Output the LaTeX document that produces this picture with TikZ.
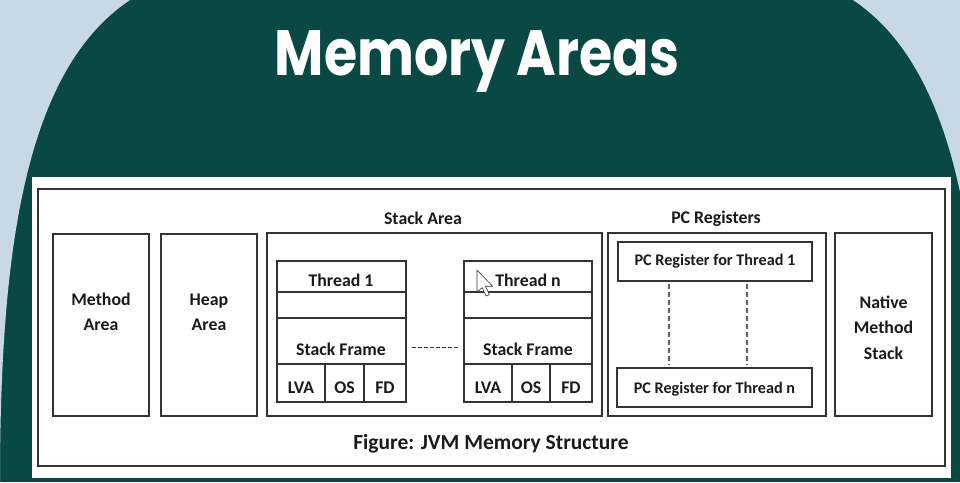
\documentclass[tikz,border=0pt]{standalone}
\usepackage{fontspec}
\setmainfont{Carlito}
\newfontfamily\titlefont{Poppins}[FakeStretch=0.84]
\usetikzlibrary{calc}

\definecolor{skyback}{HTML}{C8D8E4}
\definecolor{deepteal}{HTML}{0A4844}
\definecolor{inkline}{HTML}{333333}
\definecolor{ink}{HTML}{1A1A1A}

\tikzset{
  box/.style={draw=inkline, line width=1.3pt, fill=white, inner sep=0pt, outer sep=0pt},
  lab/.style={anchor=base, inner sep=0pt, outer sep=0pt, text=ink,
              font=\fontsize{17.8}{20}\selectfont\bfseries},
  pclab/.style={lab, font=\fontsize{16.2}{20}\selectfont\bfseries},
  caption/.style={lab, font=\fontsize{21.5}{24}\selectfont\bfseries},
  hdots/.style={draw=inkline, line width=1pt, dash pattern=on 4pt off 2pt},
  vdots/.style={draw=gray!75!black, line width=1.8pt, dash pattern=on 5pt off 3pt},
}

% rectangle node from its corners: name, x1, y1, x2, y2
\newcommand\cellbox[5]{%
  \node[box, minimum width={#4-#2}, minimum height={#5-#3}] (#1)
    at ({(#2+#4)/2},{(#3+#5)/2}) {};}

\begin{document}
\begin{tikzpicture}[x=1pt, y=-1pt]
  \useasboundingbox (0,0) rectangle (960,482);

  % backdrop: dark disc on a pale ground
  \fill[deepteal] (0,0) rectangle (960,482);
  \fill[skyback] (0,0) -- (130,0) .. controls (25,70) and (0,250) .. (0,482) -- cycle;
  \fill[skyback] (990,0) -- (853,0) .. controls (958,70) and (983,250) .. (983,482) -- (990,482) -- cycle;

  \node[anchor=base, inner sep=0pt, text=white,
        font=\titlefont\bfseries\fontsize{64}{70}\selectfont] (title) at (477,75) {Memory Areas};

  % white card and its frame
  \fill[white] (32,177) rectangle (951,478);
  \cellbox{frame}{38}{189}{945}{466}

  % method and heap areas
  \cellbox{method}{53}{234}{149}{416}
  \node[lab] (methodA) at (101,305) {Method};
  \node[lab] (methodB) at (101,330) {Area};

  \cellbox{heap}{161}{234}{257}{416}
  \node[lab] (heapA) at (209,305) {Heap};
  \node[lab] (heapB) at (209,330) {Area};

  % stack area with two thread stacks
  \cellbox{stack}{267}{233}{602}{416}
  \node[lab] (stacklbl) at (423,224) {Stack Area};

  \cellbox{tAname}{277}{261}{406}{292}
  \cellbox{tAgap}{277}{292}{406}{318}
  \cellbox{tAsf}{277}{318}{406}{364}
  \cellbox{tAlva}{277}{364}{325}{402}
  \cellbox{tAos}{325}{364}{364}{402}
  \cellbox{tAfd}{364}{364}{406}{402}
  \node[lab] (tAnamet) at (341,286) {Thread 1};
  \node[lab] (tAsft) at (341,355) {Stack Frame};
  \node[lab] (tAlvat) at (301,393) {LVA};
  \node[lab] (tAost) at (344.5,393) {OS};
  \node[lab] (tAfdt) at (385,393) {FD};

  \cellbox{tNname}{464}{261}{592}{292}
  \cellbox{tNgap}{464}{292}{592}{318}
  \cellbox{tNsf}{464}{318}{592}{364}
  \cellbox{tNlva}{464}{364}{512}{402}
  \cellbox{tNos}{512}{364}{550}{402}
  \cellbox{tNfd}{550}{364}{592}{402}
  \node[lab] (tNnamet) at (528,286) {Thread n};
  \node[lab] (tNsft) at (528,355) {Stack Frame};
  \node[lab] (tNlvat) at (488,393) {LVA};
  \node[lab] (tNost) at (531,393) {OS};
  \node[lab] (tNfdt) at (571,393) {FD};

  \draw[hdots] ([xshift=6pt,yshift=-6pt]tAsf.east) -- ([xshift=-6pt,yshift=-6pt]tNsf.west);

  % pc registers
  \cellbox{pcarea}{608}{233}{826}{416}
  \node[lab] (pclbl) at (716,223) {PC Registers};
  \cellbox{pcA}{618}{242}{812}{281}
  \node[pclab] (pcAt) at (715,265) {PC Register for Thread 1};
  \cellbox{pcN}{617}{368}{812}{407}
  \node[pclab] (pcNt) at (714.5,393) {PC Register for Thread n};
  \draw[vdots] ([xshift=-46pt,yshift=-3pt]pcA.south) -- ([xshift=-45.5pt,yshift=3pt]pcN.north);
  \draw[vdots] ([xshift=32pt,yshift=-3pt]pcA.south) -- ([xshift=32.5pt,yshift=3pt]pcN.north);

  % native method stack
  \cellbox{native}{835}{233}{932}{416}
  \node[lab] (nativeA) at (883.5,308) {Native};
  \node[lab] (nativeB) at (883.5,333) {Method};
  \node[lab] (nativeC) at (883.5,359) {Stack};

  \node[caption] (figcap) at (491,449) {Figure: JVM Memory Structure};

  % mouse pointer
  \begin{scope}[shift={(477,270)}, scale=1.3]
    \filldraw[fill=white, draw=black!80, line width=0.6pt, line join=round]
      (0,0) -- (0,17) -- (4,13.5) -- (7,20) -- (9.5,19) -- (6.5,12.5) -- (12,12.5) -- cycle;
  \end{scope}
\end{tikzpicture}
\end{document}
